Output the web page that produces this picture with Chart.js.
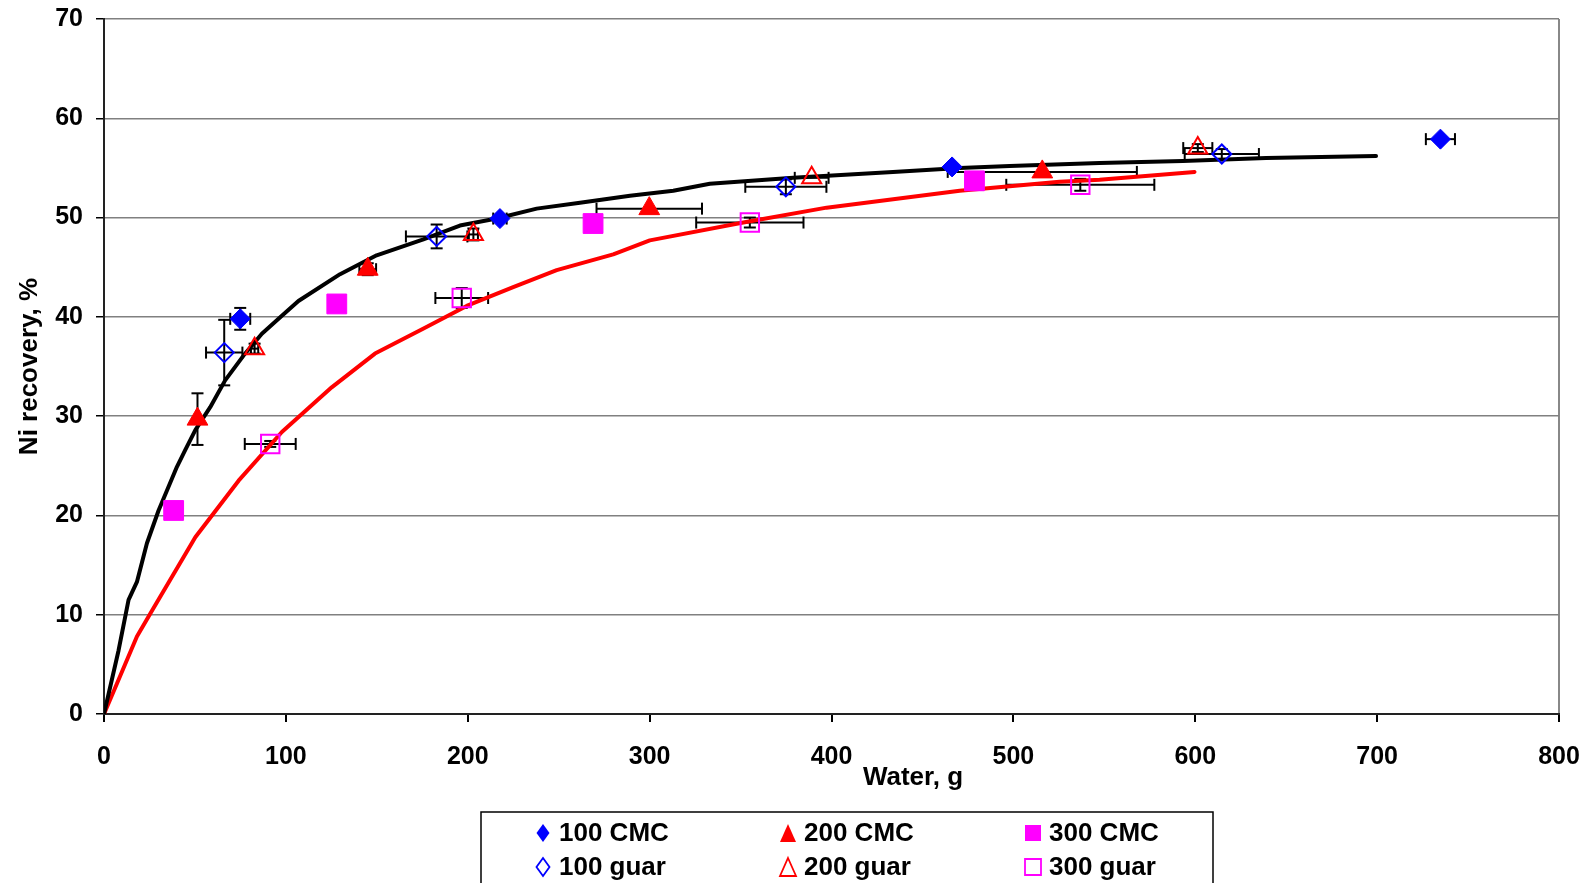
<!DOCTYPE html>
<html>
<head>
<meta charset="utf-8">
<title>Ni recovery vs water</title>
<script src="https://cdn.jsdelivr.net/npm/chart.js@4.4.0/dist/chart.umd.min.js"></script>
<style>
  html, body { margin: 0; padding: 0; background: #fff; }
  #wrap { width: 1585px; height: 883px; position: relative; }
</style>
</head>
<body>
<div id="wrap"><canvas id="recoveryChart"></canvas></div>
<script>
// measured points: water (g), Ni recovery (%), and their +/- spreads
var cmc100X = [74.9, 217.7, 466.3, 734.8];
var cmc100Y = [39.8, 49.9, 55.1, 57.9];
var cmc100XErr = [5.5, 3.7, 0, 8];
var cmc100YErr = [1.1, 0, 0, 0];

var guar100X = [66.1, 182.9, 374.9, 614.6];
var guar100Y = [36.4, 48.1, 53.1, 56.4];
var guar100XErr = [10, 16.9, 22.3, 20.4];
var guar100YErr = [3.3, 1.2, 0.75, 0.5];

var cmc200X = [51.4, 145.0, 299.8, 515.9];
var cmc200Y = [29.7, 44.8, 50.9, 54.6];
var cmc200XErr = [0, 4.6, 29, 52];
var cmc200YErr = [2.6, 0.6, 0, 0];

var guar200X = [82.8, 203.1, 389.1, 601.4];
var guar200Y = [36.8, 48.3, 54.0, 57.0];
var guar200XErr = [2, 2.5, 9.3, 8];
var guar200YErr = [0.5, 0.6, 0, 0.4];

var cmc300X = [38.3, 128.0, 268.9, 478.6];
var cmc300Y = [20.5, 41.3, 49.4, 53.7];

var guar300X = [91.4, 196.7, 355.1, 536.8];
var guar300Y = [27.2, 41.9, 49.5, 53.3];
var guar300XErr = [14, 14.5, 29.5, 40.7];
var guar300YErr = [0.3, 1.0, 0.5, 0.6];

// fitted curves
var blackFitX = [0, 8, 13.5, 18.1, 23.6, 30, 40.1, 44.7, 50.2, 58.4, 66.6, 76.7, 86.8, 97.8, 106.9, 129.8, 149.9, 175.6, 195.7, 215.9, 237.9, 261.7, 289.2, 313, 333.1, 378.9, 433.8, 470.5, 498, 547.4, 593.2, 639, 699.4];
var blackFitY = [0, 6.4, 11.5, 13.3, 17.2, 20.5, 24.9, 26.6, 28.6, 30.9, 33.6, 36.1, 38.3, 40.1, 41.6, 44.3, 46.2, 47.8, 49.2, 49.9, 50.9, 51.5, 52.2, 52.7, 53.4, 54.0, 54.6, 55.0, 55.2, 55.5, 55.7, 56.0, 56.2];

var redFitX = [0, 18.1, 25.4, 50.2, 74, 97.8, 125.2, 149, 176.5, 199.4, 225, 248.9, 280, 300.1, 351.5, 397.3, 470.5, 525.4, 547.4, 599.6];
var redFitY = [0, 7.8, 10.1, 17.8, 23.5, 28.4, 32.9, 36.3, 38.9, 41.1, 43.0, 44.7, 46.3, 47.7, 49.5, 51.0, 52.7, 53.6, 53.8, 54.6];

var xTicks = [0, 100, 200, 300, 400, 500, 600, 700, 800];
var yTicks = [0, 10, 20, 30, 40, 50, 60, 70];

var FONT = '"Liberation Sans", Arial, sans-serif';

function pts(xs, ys) {
  return xs.map(function (x, i) { return { x: x, y: ys[i] }; });
}

function markerSet(label, xs, ys, xErr, yErr, style, radius, color, filled) {
  return {
    label: label,
    data: pts(xs, ys),
    xErr: xErr,
    yErr: yErr,
    showLine: false,
    pointStyle: style,
    pointRadius: radius,
    pointBackgroundColor: filled ? color : 'rgba(0,0,0,0)',
    pointBorderColor: color,
    pointBorderWidth: filled ? 1 : 2
  };
}

// error bars go under the markers
var errorBars = {
  id: 'errorBars',
  beforeDatasetsDraw: function (chart) {
    var ctx = chart.ctx, xs = chart.scales.x, ys = chart.scales.y;
    var cap = 6;
    ctx.save();
    ctx.strokeStyle = '#000';
    ctx.lineWidth = 2;
    function seg(x1, y1, x2, y2) {
      ctx.beginPath(); ctx.moveTo(x1, y1); ctx.lineTo(x2, y2); ctx.stroke();
    }
    chart.data.datasets.forEach(function (ds) {
      if (!ds.xErr) return;
      ds.data.forEach(function (p, j) {
        var px = xs.getPixelForValue(p.x), py = ys.getPixelForValue(p.y);
        var ex = ds.xErr[j], ey = ds.yErr[j];
        if (ex) {
          var l = xs.getPixelForValue(p.x - ex), r = xs.getPixelForValue(p.x + ex);
          seg(l, py, r, py); seg(l, py - cap, l, py + cap); seg(r, py - cap, r, py + cap);
        }
        if (ey) {
          var t = ys.getPixelForValue(p.y + ey), b = ys.getPixelForValue(p.y - ey);
          seg(px, t, px, b); seg(px - cap, t, px + cap, t); seg(px - cap, b, px + cap, b);
        }
      });
    });
    ctx.restore();
  }
};

// boxed legend under the x axis, three columns by two rows
var boxLegend = {
  id: 'boxLegend',
  afterDraw: function (chart) {
    var ctx = chart.ctx;
    ctx.save();
    ctx.strokeStyle = '#000';
    ctx.lineWidth = 1.5;
    ctx.strokeRect(481, 812, 732, 90);

    var cols = [543, 788, 1033];
    var rows = [833, 867];
    var items = [
      ['100 CMC', 'diamond', '#0000FF', true],
      ['200 CMC', 'triangle', '#FF0000', true],
      ['300 CMC', 'square', '#FF00FF', true],
      ['100 guar', 'diamond', '#0000FF', false],
      ['200 guar', 'triangle', '#FF0000', false],
      ['300 guar', 'square', '#FF00FF', false]
    ];
    ctx.font = 'bold 26px ' + FONT;
    ctx.textBaseline = 'middle';
    ctx.textAlign = 'left';
    items.forEach(function (it, k) {
      var cx = cols[k % 3], cy = rows[Math.floor(k / 3)];
      ctx.beginPath();
      if (it[1] === 'diamond') {
        ctx.moveTo(cx, cy - 9); ctx.lineTo(cx + 6.5, cy); ctx.lineTo(cx, cy + 9); ctx.lineTo(cx - 6.5, cy);
      } else if (it[1] === 'triangle') {
        ctx.moveTo(cx, cy - 9); ctx.lineTo(cx + 8, cy + 9); ctx.lineTo(cx - 8, cy + 9);
      } else {
        ctx.rect(cx - 8, cy - 8, 16, 16);
      }
      ctx.closePath();
      if (it[3]) {
        ctx.fillStyle = it[2]; ctx.fill();
      } else {
        ctx.strokeStyle = it[2]; ctx.lineWidth = 1.8; ctx.stroke();
      }
      ctx.fillStyle = '#000';
      ctx.fillText(it[0], cx + 16, cy + 1);
    });

    // x axis title sits right of centre
    var area = chart.chartArea;
    ctx.textAlign = 'center';
    ctx.fillText('Water, g', area.left + (area.right - area.left) * 0.556, 778);
    ctx.restore();
  }
};

var datasets = [
  markerSet('100 CMC', cmc100X, cmc100Y, cmc100XErr, cmc100YErr, 'rectRot', 10, '#0000FF', true),
  markerSet('200 CMC', cmc200X, cmc200Y, cmc200XErr, cmc200YErr, 'triangle', 12, '#FF0000', true),
  markerSet('300 CMC', cmc300X, cmc300Y, null, null, 'rect', 14, '#FF00FF', true),
  markerSet('100 guar', guar100X, guar100Y, guar100XErr, guar100YErr, 'rectRot', 9.5, '#0000FF', false),
  markerSet('200 guar', guar200X, guar200Y, guar200XErr, guar200YErr, 'triangle', 11, '#FF0000', false),
  markerSet('300 guar', guar300X, guar300Y, guar300XErr, guar300YErr, 'rect', 13, '#FF00FF', false),
  {
    label: 'fit 1',
    data: pts(blackFitX, blackFitY),
    showLine: true,
    borderColor: '#000',
    borderWidth: 4,
    pointRadius: 0,
    tension: 0,
    borderCapStyle: 'round',
    borderJoinStyle: 'round'
  },
  {
    label: 'fit 2',
    data: pts(redFitX, redFitY),
    showLine: true,
    borderColor: '#FF0000',
    borderWidth: 4,
    pointRadius: 0,
    tension: 0,
    borderCapStyle: 'round',
    borderJoinStyle: 'round'
  }
];

// fixed axis boxes so the plot area lands at left 104, right 1559, top 19, bottom 714
function noPad(s) {
  s.paddingTop = 0; s.paddingBottom = 0; s.paddingLeft = 0; s.paddingRight = 0;
}

var ctx = document.getElementById('recoveryChart').getContext('2d');
var chart = new Chart(ctx, {
  type: 'scatter',
  data: { datasets: datasets },
  plugins: [errorBars, boxLegend],
  options: {
    responsive: true,
    maintainAspectRatio: false,
    animation: false,
    events: [],
    layout: { padding: { left: 0, right: 26, top: 19, bottom: 0 } },
    plugins: {
      legend: { display: false },
      tooltip: { enabled: false }
    },
    scales: {
      x: {
        type: 'linear',
        min: 0,
        max: 800,
        afterFit: function (s) { s.height = 169; noPad(s); },
        afterBuildTicks: function (s) { s.ticks = xTicks.map(function (v) { return { value: v }; }); },
        border: { color: '#222', width: 2 },
        grid: {
          color: function (c) { return c.tick && c.tick.value === 800 ? '#888' : 'rgba(0,0,0,0)'; },
          lineWidth: 2,
          tickColor: '#000',
          tickLength: 8
        },
        ticks: {
          color: '#000',
          padding: 20,
          maxRotation: 0,
          font: { family: FONT, size: 25, weight: 'bold' }
        }
      },
      y: {
        type: 'linear',
        min: 0,
        max: 70,
        afterFit: function (s) { s.width = 104; noPad(s); },
        afterBuildTicks: function (s) { s.ticks = yTicks.map(function (v) { return { value: v }; }); },
        border: { color: '#222', width: 2 },
        grid: {
          color: '#808080',
          lineWidth: 1.5,
          tickColor: '#000',
          tickLength: 8
        },
        ticks: {
          color: '#000',
          padding: 13,
          font: { family: FONT, size: 25, weight: 'bold' }
        },
        title: {
          display: true,
          text: 'Ni recovery, %',
          color: '#000',
          padding: { top: 14, bottom: 0 },
          font: { family: FONT, size: 26, weight: 'bold' }
        }
      }
    }
  }
});
</script>
</body>
</html>
